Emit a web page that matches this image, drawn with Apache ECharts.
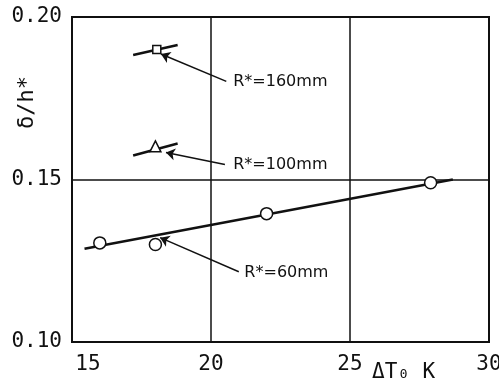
<!DOCTYPE html>
<html>
<head>
<meta charset="utf-8">
<script src="https://cdn.jsdelivr.net/npm/echarts@6/dist/echarts.min.js"></script>
<style>html,body{margin:0;padding:0;background:#fff}#c{width:499px;height:389px}</style>
</head>
<body>
<div id="c"></div>
<script>
// Data
var xTicks = [15, 20, 25, 30];
var yTicks = [0.10, 0.15, 0.20];
var r60Points = [[16.0, 0.1305], [18.0, 0.1300], [22.0, 0.1395], [27.9, 0.1490]];
var r60Fit = [[15.45, 0.1287], [28.7, 0.1500]];
var r100Points = [[18.0, 0.1602]];
var r100Fit = [[17.2, 0.1574], [18.8, 0.1611]];
var r160Points = [[18.05, 0.1900]];
var r160Fit = [[17.2, 0.1883], [18.8, 0.1914]];
var labelTexts = ['R*=160mm', 'R*=100mm', 'R*=60mm'];
var labelAnchors = [[20.8, 0.1802], [20.8, 0.1546], [21.2, 0.1212]];
var arrowFrom = [[20.55, 0.1802], [20.5, 0.1546], [21.0, 0.1216]];
var arrowTo = [[18.2, 0.1886], [18.38, 0.1583], [18.17, 0.1321]];

var mono = '"DejaVu Sans Mono", "Liberation Mono", monospace';
var chart = echarts.init(document.getElementById('c'));

var labelData = labelAnchors.map(function (p, i) { return { value: p, name: labelTexts[i] }; });
var arrowData = arrowFrom.map(function (p, i) {
  return [{ coord: p, symbol: 'none' }, { coord: arrowTo[i], symbol: 'arrow' }];
});

chart.setOption({
  backgroundColor: '#fff',
  animation: false,
  grid: { left: 72, right: 10, top: 17, bottom: 47, outerBoundsMode: 'none', containLabel: false, show: true, borderColor: '#111', borderWidth: 2, backgroundColor: 'transparent' },
  xAxis: {
    type: 'value', min: xTicks[0], max: xTicks[xTicks.length - 1], interval: 5,
    axisLine: { show: false }, axisTick: { show: false },
    splitLine: { show: true, lineStyle: { color: '#111', width: 1.5 } },
    axisLabel: {
      margin: 12, color: '#111', fontFamily: mono, fontSize: 21,
      formatter: function (v) { return v === 15 ? '{a|15}' : (v === 30 ? '{b|30}' : String(v)); },
      rich: {
        a: { fontFamily: mono, fontSize: 21, color: '#111', padding: [0, 0, 0, 32] },
        b: { fontFamily: mono, fontSize: 21, color: '#111', padding: [0, 0, 0, 0] }
      }
    }
  },
  yAxis: {
    type: 'value', min: yTicks[0], max: yTicks[yTicks.length - 1], interval: 0.05,
    axisLine: { show: false }, axisTick: { show: false },
    splitLine: { show: true, lineStyle: { color: '#111', width: 1.5 } },
    axisLabel: {
      margin: 10, color: '#111', fontFamily: mono, fontSize: 21,
      formatter: function (v) { return v.toFixed(2); }
    }
  },
  graphic: [
    { type: 'text', left: 16, top: 76, rotation: Math.PI / 2, style: { text: 'δ/h*', font: '22px ' + mono, fill: '#111' } },
    { type: 'text', left: 372, top: 362, style: { text: 'ΔT₀ K', font: '21px ' + mono, fill: '#111' } }
  ],
  series: [
    { type: 'line', data: r60Fit, symbol: 'none', lineStyle: { color: '#111', width: 2.5 }, z: 3 },
    { type: 'line', data: r100Fit, symbol: 'none', lineStyle: { color: '#111', width: 2.5 }, z: 3 },
    { type: 'line', data: r160Fit, symbol: 'none', lineStyle: { color: '#111', width: 2.5 }, z: 3 },
    { type: 'scatter', data: r60Points, symbol: 'circle', symbolSize: 12, itemStyle: { color: '#fff', opacity: 1, borderColor: '#111', borderWidth: 1.5 }, z: 5 },
    { type: 'scatter', data: r100Points, symbol: 'triangle', symbolSize: 11, itemStyle: { color: '#fff', opacity: 1, borderColor: '#111', borderWidth: 1.5 }, z: 5 },
    { type: 'scatter', data: r160Points, symbol: 'rect', symbolSize: 8, itemStyle: { color: '#fff', opacity: 1, borderColor: '#111', borderWidth: 1.5 }, z: 5 },
    {
      type: 'scatter', data: labelData, symbolSize: 0, silent: true, z: 4,
      itemStyle: { opacity: 1 },
      label: { show: true, position: 'right', distance: 0, formatter: '{b}', color: '#111', fontFamily: '"DejaVu Sans", sans-serif', fontSize: 16 },
      markLine: {
        silent: true, symbolSize: 9,
        lineStyle: { color: '#111', width: 1.5, type: 'solid', opacity: 1 },
        label: { show: false },
        data: arrowData
      }
    }
  ]
});
</script>
</body>
</html>
